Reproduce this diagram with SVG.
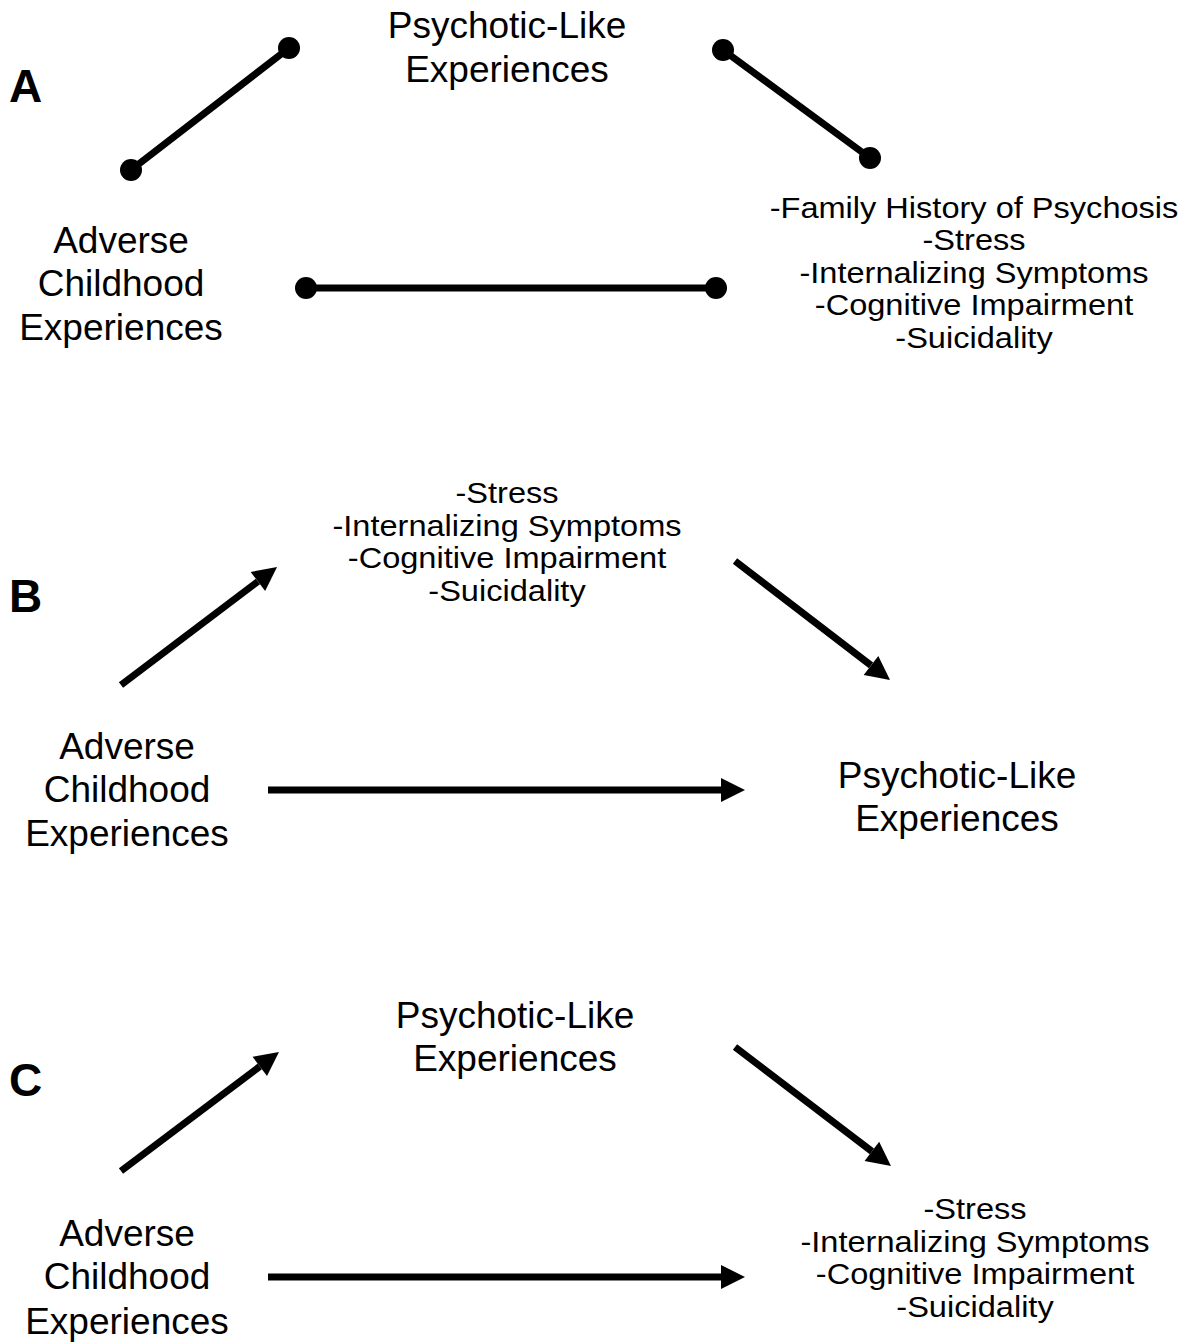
<svg xmlns="http://www.w3.org/2000/svg" width="1196" height="1343" viewBox="0 0 1196 1343">
<defs>
<style>
.t{font-family:"Liberation Sans",Arial,sans-serif;font-size:37px;fill:#000;text-anchor:middle}
.s{font-family:"Liberation Sans",Arial,sans-serif;font-size:30px;fill:#000;text-anchor:middle}
.p{font-family:"Liberation Sans",Arial,sans-serif;font-size:46px;font-weight:bold;fill:#000}
.c{stroke:#000;stroke-width:7;fill:none}
.d{fill:#000}
</style>
<marker id="ah" markerUnits="userSpaceOnUse" markerWidth="24" markerHeight="24" viewBox="0 -12 24 24" refX="0" refY="0" orient="auto" overflow="visible">
<path d="M0,-12 L24,0 L0,12 z" fill="#000"/>
</marker>
</defs>
<rect width="1196" height="1343" fill="#fff"/>
<g id="labels">
<text class="p" x="9" y="102">A</text>
<text class="p" x="9" y="612">B</text>
<text class="p" x="9" y="1096">C</text>
</g>
<g id="connectors">
<line class="c" x1="131" y1="170" x2="289" y2="48"/>
<circle class="d" cx="131" cy="170" r="11"/>
<circle class="d" cx="289" cy="48" r="11"/>
<line class="c" x1="723" y1="50" x2="870" y2="158"/>
<circle class="d" cx="723" cy="50" r="11"/>
<circle class="d" cx="870" cy="158" r="11"/>
<line class="c" x1="306" y1="288" x2="716" y2="288"/>
<circle class="d" cx="306" cy="288" r="11"/>
<circle class="d" cx="716" cy="288" r="11"/>
<line class="c" x1="121" y1="685" x2="257.9" y2="581.5" marker-end="url(#ah)"/>
<line class="c" x1="735" y1="561" x2="871" y2="665.4" marker-end="url(#ah)"/>
<line class="c" x1="268" y1="790" x2="721" y2="790" marker-end="url(#ah)"/>
<line class="c" x1="121" y1="1171" x2="259.8" y2="1066.4" marker-end="url(#ah)"/>
<line class="c" x1="735" y1="1047" x2="871.9" y2="1151.4" marker-end="url(#ah)"/>
<line class="c" x1="268" y1="1277" x2="721" y2="1277" marker-end="url(#ah)"/>
</g>
<g id="A-ple">
<text class="t" x="507" y="38">Psychotic-Like</text>
<text class="t" x="507" y="82">Experiences</text>
</g>
<g id="A-ace">
<text class="t" x="121" y="253">Adverse</text>
<text class="t" x="121" y="296">Childhood</text>
<text class="t" x="121" y="340">Experiences</text>
</g>
<g id="A-covariates" transform="translate(974,0) scale(1.085,1)">
<text class="s" x="0" y="218">-Family History of Psychosis</text>
<text class="s" x="0" y="250">-Stress</text>
<text class="s" x="0" y="283">-Internalizing Symptoms</text>
<text class="s" x="0" y="315">-Cognitive Impairment</text>
<text class="s" x="0" y="348">-Suicidality</text>
</g>
<g id="B-mediators" transform="translate(507,0) scale(1.085,1)">
<text class="s" x="0" y="503">-Stress</text>
<text class="s" x="0" y="536">-Internalizing Symptoms</text>
<text class="s" x="0" y="568">-Cognitive Impairment</text>
<text class="s" x="0" y="601">-Suicidality</text>
</g>
<g id="B-ace">
<text class="t" x="127" y="759">Adverse</text>
<text class="t" x="127" y="802">Childhood</text>
<text class="t" x="127" y="846">Experiences</text>
</g>
<g id="B-ple">
<text class="t" x="957" y="788">Psychotic-Like</text>
<text class="t" x="957" y="831">Experiences</text>
</g>
<g id="C-ple">
<text class="t" x="515" y="1028">Psychotic-Like</text>
<text class="t" x="515" y="1071">Experiences</text>
</g>
<g id="C-ace">
<text class="t" x="127" y="1246">Adverse</text>
<text class="t" x="127" y="1289">Childhood</text>
<text class="t" x="127" y="1334">Experiences</text>
</g>
<g id="C-outcomes" transform="translate(975,0) scale(1.085,1)">
<text class="s" x="0" y="1219">-Stress</text>
<text class="s" x="0" y="1252">-Internalizing Symptoms</text>
<text class="s" x="0" y="1284">-Cognitive Impairment</text>
<text class="s" x="0" y="1317">-Suicidality</text>
</g>
</svg>
